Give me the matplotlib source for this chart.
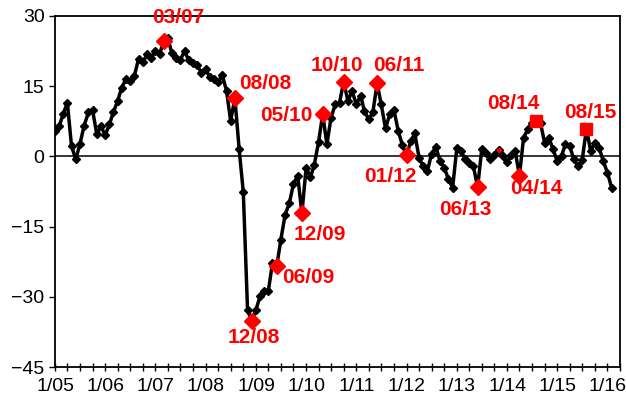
import matplotlib

matplotlib.use("Agg")
import matplotlib.pyplot as plt  # noqa: E402
import matplotlib.dates as mdates  # noqa: E402
import matplotlib.ticker as mticker  # noqa: E402
import pandas as pd  # noqa: E402

plt.rcParams["font.family"] = ["Liberation Sans", "DejaVu Sans"]

# monthly readings, Jan 2005 onwards
v2005 = [5.4, 6.5, 9.0, 11.5, 2.2, -0.6, 2.6, 6.6, 9.4, 9.9, 4.7, 6.5]
v2006 = [4.5, 6.9, 9.4, 11.8, 14.7, 16.5, 16.1, 17.2, 20.9, 20.1, 21.8, 21.1]
v2007 = [22.5, 21.8, 24.7, 25.3, 22.0, 21.0, 20.6, 22.5, 20.5, 20.0, 19.5, 17.8]
v2008 = [18.6, 16.9, 16.5, 15.8, 17.5, 14.0, 7.6, 12.4, 1.5, -7.6, -32.8, -35.2]
v2009 = [-32.8, -29.8, -28.8, -28.8, -22.8, -23.5, -17.8, -12.5, -10.0, -5.8, -4.2, -12.2]
v2010 = [-2.4, -4.5, -1.8, 3.0, 9.0, 2.6, 8.3, 11.1, 11.5, 16.0, 11.8, 14.0]
v2011 = [11.1, 13.0, 9.7, 7.9, 9.4, 15.6, 11.1, 6.0, 9.0, 10.0, 5.5, 2.5]
v2012 = [0.2, 3.3, 4.9, -0.3, -2.1, -3.1, 0.6, 2.0, -1.0, -2.4, -4.9, -6.7]
v2013 = [1.9, 1.1, -0.5, -1.5, -2.1, -6.6, 1.6, 0.8, -0.6, 0.4, 1.3, 0.1]
v2014 = [-1.3, 0.4, 1.1, -4.1, 4.0, 5.8, 7.2, 7.6, 7.1, 2.9, 4.0, 1.5]
v2015 = [-1.0, 0.1, 2.6, 2.2, -0.6, -2.1, -0.8, 5.9, 1.1, 2.9, 1.9, -1.0]
v2016 = [-3.5, -6.8]

values = v2005 + v2006 + v2007 + v2008 + v2009 + v2010 + v2011 + v2012 + v2013 + v2014 + v2015 + v2016
dates = pd.date_range("2005-01-01", periods=len(values), freq="MS")
labels = [d.strftime("%m/%y") for d in dates]

diamond_labels = ["03/07", "08/08", "12/08", "06/09", "12/09", "05/10", "10/10",
                  "06/11", "01/12", "06/13", "04/14"]
square_labels = ["08/14", "08/15"]
small_red = ["11/13"]

# text offsets from the marker, in pixels
offsets = {
    "03/07": (15, 23), "08/08": (30, 15), "12/08": (2, -16), "06/09": (32, -11),
    "12/09": (18, -21), "05/10": (-36, -1), "10/10": (-7, 16), "06/11": (22, 18),
    "01/12": (-16, -21), "06/13": (-12, -22), "04/14": (17, -13),
    "08/14": (-23, 17), "08/15": (4, 16),
}

fig = plt.figure(figsize=(6.26, 4.05), dpi=100)
ax = fig.add_axes([55 / 626, 1 - 367 / 405, 565 / 626, 351 / 405])

ax.axhline(0, color="black", lw=1.1, zorder=1)
ax.plot(dates, values, color="black", lw=2.5, marker="D", ms=4.5, zorder=2)

for lab in diamond_labels + square_labels + small_red:
    i = labels.index(lab)
    if lab in small_red:
        ax.plot(dates[i], values[i], marker="D", ms=4.2, color="red", mec="black", mew=0.8, zorder=3)
        continue
    marker = "s" if lab in square_labels else "D"
    ax.plot(dates[i], values[i], marker=marker, ms=8.5, color="red", mec="red", zorder=3)
    ax.annotate(lab, (dates[i], values[i]), textcoords="offset pixels", xytext=offsets[lab],
                ha="center", va="center", color="red", fontsize=15, fontweight="bold")

ax.set_ylim(-45, 30)
ax.set_yticks([-45, -30, -15, 0, 15, 30])
ax.set_xlim(pd.Timestamp("2005-01-01"), pd.Timestamp("2016-04-01"))
ax.xaxis.set_major_locator(mdates.YearLocator())
ax.xaxis.set_minor_locator(mdates.MonthLocator(bymonth=[4, 7, 10]))
ax.xaxis.set_major_formatter(mticker.FuncFormatter(
    lambda x, pos: f"1/{mdates.num2date(x).year % 100:02d}"))

ax.tick_params(axis="y", direction="out", length=4.5, width=1, labelsize=14, pad=3)
ax.tick_params(axis="x", which="both", direction="inout", length=6, width=1, labelsize=14, pad=5)
for s in ax.spines.values():
    s.set_linewidth(1.3)

fig.savefig("out.png", dpi=100)
